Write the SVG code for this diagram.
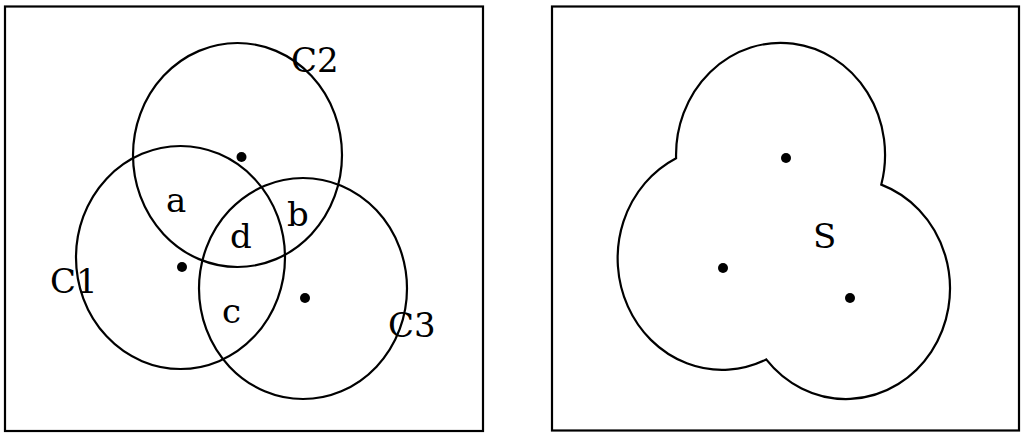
<svg xmlns="http://www.w3.org/2000/svg" width="1022" height="433" viewBox="0 0 1022 433">
<style>
.frame{fill:none;stroke:#000;stroke-width:2.2}
.circ{fill:none;stroke:#000;stroke-width:2.2}
.dot{fill:#000}
.lbl{font-family:"DejaVu Serif","Liberation Serif",serif;font-size:34px;fill:#000}
</style>
<rect width="1022" height="433" fill="#fff"/>
<g id="left-panel">
<rect class="frame" x="5" y="6.5" width="478" height="424.5"/>
<g id="C1"><ellipse class="circ" cx="180.5" cy="257.5" rx="104.5" ry="111.5"/><circle class="dot" cx="182" cy="267" r="5"/><text class="lbl" x="50" y="293">C1</text></g>
<g id="C2"><ellipse class="circ" cx="237.5" cy="155" rx="104.5" ry="112"/><circle class="dot" cx="241.5" cy="157" r="5"/><text class="lbl" x="291" y="72">C2</text></g>
<g id="C3"><ellipse class="circ" cx="303" cy="288.5" rx="104" ry="110.5"/><circle class="dot" cx="305" cy="298" r="5"/><text class="lbl" x="388" y="337">C3</text></g>
<g id="regions">
<text class="lbl" x="166" y="212">a</text>
<text class="lbl" x="287" y="226">b</text>
<text class="lbl" x="230" y="248">d</text>
<text class="lbl" x="222" y="323">c</text>
</g>
</g>
<g id="right-panel">
<rect class="frame" x="552" y="6.5" width="467" height="424"/>
<g id="S">
<path class="circ" d="M676.1,158.2 A104.5,112 0 1 1 881.3,184.6 A104,110.5 0 1 1 766.2,359.4 A104.5,111.5 0 0 1 676.1,158.2 Z"/>
<circle class="dot" cx="786" cy="158" r="5"/>
<circle class="dot" cx="723" cy="268" r="5"/>
<circle class="dot" cx="850" cy="298" r="5"/>
<text class="lbl" x="813" y="248">S</text>
</g>
</g>
</svg>
